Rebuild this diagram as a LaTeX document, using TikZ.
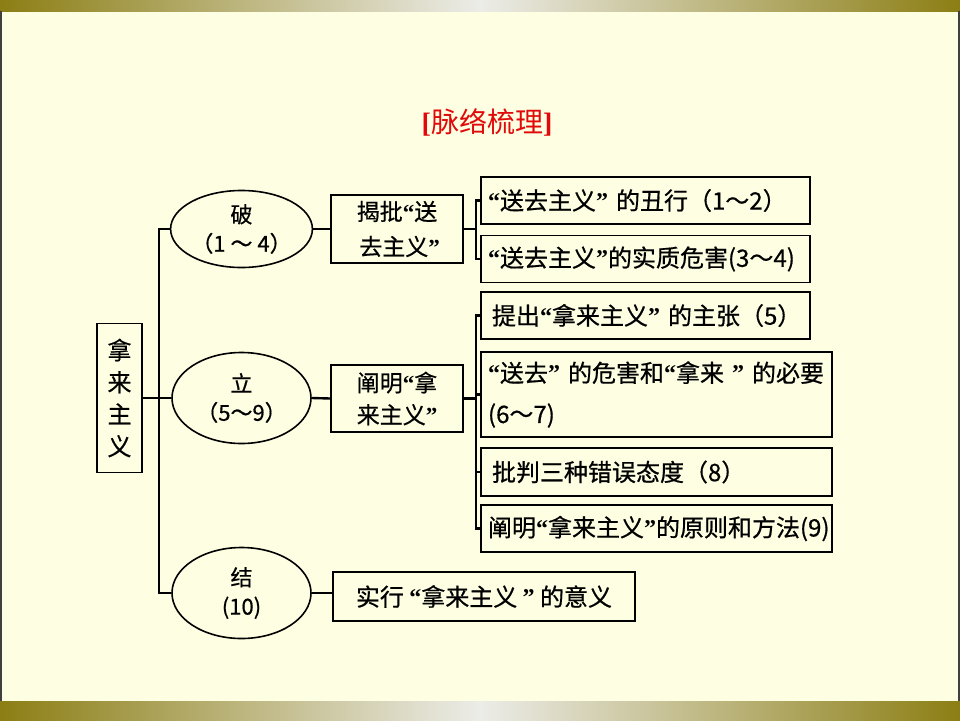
\documentclass[tikz,border=0pt]{standalone}
\usepackage{fontspec}
\setmainfont{Noto Sans CJK SC}[FakeBold=0.6]
\newfontfamily\titlefont{Noto Sans CJK SC}
\newfontfamily\brfont{Liberation Serif}
\newcommand{\qo}{{\brfont\bfseries “}}
\newcommand{\qc}{{\brfont\bfseries ”}}
\usetikzlibrary{shapes.geometric}
\definecolor{paper}{HTML}{FEFEE2}
\definecolor{barolive}{HTML}{8C7E14}
\definecolor{barmid}{HTML}{ECECE8}
\definecolor{titlered}{HTML}{E00A0A}

\begin{document}
\begin{tikzpicture}[x=1pt, y=-1pt,
    box/.style={draw, line width=1.6pt, inner xsep=7pt, inner ysep=0pt, font=\fontsize{24}{26}\selectfont},
    leaf/.style={box, align=left, text width=#1, minimum height=47pt},
    oval/.style={ellipse, draw, line width=1.6pt, inner sep=0pt, minimum width=139pt, align=center, font=\fontsize{22}{29}\selectfont},
    link/.style={line width=2.4pt}]
    % background
    \fill[paper] (0,0) rectangle (960,720);
    \shade[left color=barolive, right color=barolive, middle color=barmid] (0,0) rectangle (960,11);
    \shade[left color=barolive, right color=barolive, middle color=barmid] (0,701) rectangle (960,720);
    \draw[line width=2pt, black!75] (1,11) -- (1,701) (959,11) -- (959,701);
    \useasboundingbox (0,0) rectangle (960,720);

    % title
    \node[text=titlered, font=\titlefont\fontsize{28}{30}\selectfont] (title) at (487,122) {{\brfont\bfseries[}脉络梳理{\brfont\bfseries]}};

    % root and the three parts
    \node[box, align=center, inner xsep=0pt, minimum width=45pt, minimum height=149pt, font=\fontsize{24}{32}\selectfont] (root) at (119.5,398) {拿\\来\\主\\义};
    \node[oval, minimum height=77pt] (po) at (241.5,229) {破\\（1 ～ 4）};
    \node[oval, minimum height=91pt] (li) at (241.5,398) {立\\（5～9）};
    \node[oval, minimum height=91pt] (jie) at (241.5,593) {结\\(10)};

    % second level
    \node[box, align=center, inner xsep=0pt, minimum width=132pt, minimum height=68pt, font=\fontsize{23}{35}\selectfont] (jp) at (397,229) {揭批\qo 送\\~去主义\qc};
    \node[box, align=center, inner xsep=0pt, minimum width=132pt, minimum height=67pt, font=\fontsize{23}{32}\selectfont] (cm) at (397,398.5) {阐明\qo 拿\\来主义\qc};
    \node[box, align=center, minimum width=302pt, minimum height=49pt] (sx) at (484,596.5) {实行~\qo 拿来主义~\qc~的意义};

    % right column
    \node[leaf=315pt] (b1) at (645.5,200.5) {\qo 送去主义\qc~的丑行（1～2）};
    \node[leaf=315pt] (b2) at (645.5,259) {\qo 送去主义\qc 的实质危害(3～4)};
    \node[leaf=315pt] (b3) at (645.5,315.5) {\,提出\qo 拿来主义\qc~的主张（5）};
    \node[leaf=337pt, minimum height=85pt, font=\fontsize{24}{41}\selectfont] (b4) at (656.5,394.5) {\qo 送去\qc~的危害和\qo 拿来~\qc~的必要\\(6～7)};
    \node[leaf=337pt, minimum height=48pt] (b5) at (656.5,472) {\,批判三种错误态度（8）};
    \node[leaf=337pt] (b6) at (656.5,528.5) {阐明\qo 拿来主义\qc 的原则和方法(9)};

    % trunk
    \coordinate (tk) at (159,0);
    \draw[link] (po.west) -- (po.west -| tk) -- (jie.west -| tk) -- (jie.west);
    \draw[link] (root.east) -- (li.west);
    \draw[link] (po.east) -- (jp.west);
    \draw[link] (li.east) -- (cm.west);
    \draw[link] (jie.east) -- (jie.east -| sx.west);

    % brackets
    \draw[link] (jp.east) -- ++(12,0) coordinate (jb);
    \draw[link] (b1.west) -| (jb) |- (b2.west);
    \draw[link] (cm.east) -- ++(12,0) coordinate (cb);
    \draw[link] (b3.west) -| (cb) |- (b6.west);
    \draw[link] (b4.west) -- (b4.west -| cb);
    \draw[link] (b5.west) -- (b5.west -| cb);
\end{tikzpicture}
\end{document}
